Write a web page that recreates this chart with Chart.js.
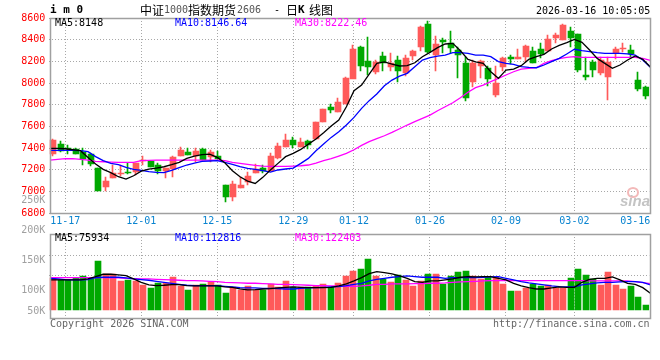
<!DOCTYPE html>
<html><head><meta charset="utf-8">
<script src="https://cdn.jsdelivr.net/npm/chart.js@4"></script>
<style>
html,body{margin:0;padding:0;background:#fff;width:660px;height:360px;overflow:hidden}
canvas{position:absolute;left:0;top:0;pointer-events:none}
.t{position:absolute;font:10px/12px 'DejaVu Sans Mono',monospace;white-space:pre;color:#000}
.c{font:12px/14px 'Noto Sans CJK SC',sans-serif}
</style></head><body>
<canvas id="main" width="660" height="360"></canvas>
<canvas id="vol" width="660" height="360"></canvas>
<div class="t" style="left:50px;top:4px;font-weight:bold;font-size:11px">i m 0</div>
<div class="t c" style="left:140px;top:3px">中证</div>
<div class="t" style="left:164px;top:4px;color:#555">1000</div>
<div class="t c" style="left:188px;top:3px">指数期货</div>
<div class="t" style="left:237px;top:4px;color:#555">2606</div>
<div class="t" style="left:268px;top:4px"> - </div>
<div class="t c" style="left:286px;top:3px">日</div>
<div class="t" style="left:298px;top:4px;font-weight:bold;font-size:11px">K</div>
<div class="t c" style="left:309px;top:3px">线图</div>
<div class="t" style="left:536px;top:5px">2026-03-16 10:05:05</div>
<div class="t" style="left:55px;top:17px">MA5:8148</div>
<div class="t" style="left:175px;top:17px;color:#00f">MA10:8146.64</div>
<div class="t" style="left:295px;top:17px;color:#f0f">MA30:8222.46</div>
<div class="t" style="left:55px;top:232px">MA5:75934</div>
<div class="t" style="left:175px;top:232px;color:#00f">MA10:112816</div>
<div class="t" style="left:295px;top:232px;color:#f0f">MA30:122403</div>
<div class="t" style="left:50px;top:318px;color:#666">Copyright 2026 SINA.COM</div>
<div class="t" style="left:493px;top:318px;color:#666">http://finance.sina.com.cn</div>
<div style="position:absolute;left:627px;top:187px;width:8px;height:7px;border:2px solid #f3b9b9;border-radius:50%"></div>
<div class="t" style="left:620px;top:193px;font:italic bold 15px/15px 'Liberation Sans',sans-serif;color:#c4c4c4">sina</div>
<script>
const categories=["11-13","11-14","11-17","11-18","11-19","11-20","11-21","11-24","11-25","11-26","11-27","11-28","12-01","12-02","12-03","12-04","12-05","12-08","12-09","12-10","12-11","12-12","12-15","12-16","12-17","12-18","12-19","12-22","12-23","12-24","12-25","12-26","12-29","12-30","12-31","01-05","01-06","01-07","01-08","01-09","01-12","01-13","01-14","01-15","01-16","01-19","01-20","01-21","01-22","01-23","01-26","01-27","01-28","01-29","01-30","02-02","02-03","02-04","02-05","02-06","02-09","02-10","02-11","02-12","02-13","02-24","02-25","02-26","02-27","03-02","03-03","03-04","03-05","03-06","03-09","03-10","03-11","03-12","03-13","03-16"];
const opens=[7344,7437,7403,7388,7363,7345,7215,7040,7123,7160,7175,7182,7280,7277,7240,7191,7203,7323,7363,7326,7391,7314,7323,7058,6947,7027,7086,7169,7215,7187,7307,7409,7473,7409,7464,7483,7640,7781,7735,7809,8037,8332,8203,8104,8246,8147,8212,8095,8252,8332,8544,8258,8394,8366,8301,8181,8012,8160,8135,7889,8147,8237,8224,8243,8295,8314,8295,8415,8394,8480,8452,8074,8197,8092,8055,8274,8314,8304,8027,7963];
const closes=[7474,7369,7388,7345,7295,7252,7006,7095,7166,7166,7166,7262,7286,7221,7188,7215,7317,7378,7335,7369,7289,7360,7298,6947,7067,7058,7141,7206,7184,7326,7415,7473,7427,7455,7427,7640,7757,7751,7824,8046,8311,8160,8151,8197,8181,8187,8114,8227,8295,8517,8283,8360,8381,8323,8258,7864,8181,8206,8040,7997,8231,8224,8237,8341,8187,8268,8403,8443,8532,8415,8120,8055,8120,8212,8197,8314,8323,8268,7944,7880];
const highs=[7483,7465,7428,7397,7397,7351,7215,7132,7243,7243,7258,7262,7326,7283,7258,7215,7326,7406,7397,7397,7397,7381,7375,7058,7095,7129,7181,7249,7243,7354,7443,7529,7504,7492,7473,7640,7757,7806,7858,8055,8351,8341,8421,8212,8286,8274,8249,8258,8304,8526,8572,8434,8418,8480,8335,8237,8212,8212,8157,8157,8243,8258,8314,8351,8332,8366,8443,8461,8544,8517,8452,8237,8212,8237,8237,8332,8369,8351,8101,7972];
const lows=[7326,7363,7345,7345,7243,7233,7006,7000,7123,7141,7160,7150,7243,7221,7160,7120,7135,7323,7335,7273,7289,7273,7298,6904,6914,7027,7058,7169,7166,7187,7298,7409,7400,7409,7390,7483,7640,7726,7735,7809,8043,8114,8074,8083,8114,8114,8012,8064,8212,8298,8274,8114,8280,8280,8046,7834,7966,8046,7972,7871,8114,8175,8224,8194,8187,8228,8295,8366,8394,8335,8104,8027,8055,8074,7843,8218,8283,8228,7926,7852];
const ma5=[7396,7396,7393,7384,7375,7313,7252,7203,7172,7135,7113,7144,7187,7206,7215,7227,7246,7267,7304,7326,7338,7344,7313,7264,7190,7135,7095,7073,7129,7196,7258,7320,7350,7387,7436,7483,7541,7603,7658,7781,7929,7981,8083,8181,8194,8175,8157,8160,8187,8243,8283,8326,8360,8366,8298,8218,8194,8181,8104,8043,8120,8129,8160,8218,8243,8264,8314,8348,8372,8403,8375,8304,8227,8181,8135,8166,8212,8249,8218,8148];
const ma10=[7378,7378,7378,7378,7375,7366,7320,7283,7258,7246,7221,7203,7194,7181,7175,7172,7194,7218,7243,7261,7277,7280,7283,7267,7249,7227,7212,7203,7191,7178,7197,7206,7215,7258,7304,7375,7436,7498,7550,7612,7683,7766,7837,7898,7975,8027,8064,8089,8151,8212,8234,8249,8258,8280,8280,8274,8258,8258,8243,8197,8181,8172,8151,8144,8141,8166,8197,8227,8268,8311,8298,8289,8280,8274,8274,8274,8268,8258,8212,8146];
const ma30=[7289,7295,7301,7301,7295,7289,7277,7273,7270,7267,7267,7267,7283,7286,7289,7289,7289,7289,7289,7289,7289,7289,7289,7283,7267,7258,7249,7240,7233,7230,7230,7230,7233,7236,7243,7261,7283,7301,7326,7350,7384,7424,7458,7486,7513,7544,7578,7612,7643,7674,7704,7744,7781,7818,7864,7914,7957,7981,8012,8043,8074,8104,8129,8135,8141,8181,8206,8224,8237,8243,8237,8237,8237,8237,8237,8237,8237,8237,8228,8209];
const volumes=[120600,117800,117300,120600,124500,120600,150000,127300,127300,116200,117800,116200,109500,104500,112800,112800,122800,107800,101200,109500,111200,114500,109500,96200,105600,100600,107800,100600,100600,111200,106200,116200,106200,106200,106200,107800,111200,106200,112800,124500,132800,136200,152800,124500,119500,114500,126200,117800,107800,116200,127800,127800,111200,124500,131200,132800,124500,119500,122800,122800,111200,99500,99500,104500,111200,107800,109500,104500,104500,121200,136200,126200,119500,109500,131200,109500,102800,107800,89500,76200];
const volMa5=[117800,117800,117800,117800,117800,119500,123400,127300,127300,126200,125000,119500,113900,109500,108400,109000,110000,110000,108400,107800,107800,107800,107800,106200,105600,102800,101200,101700,102800,103400,104500,105600,106200,105600,105000,105000,105000,105600,107800,111200,116200,121700,128400,131700,130000,127800,124500,120600,115000,113900,116200,116200,117800,119500,122300,123400,122800,123400,123400,120600,117800,112300,107800,105000,102800,102800,104500,106200,105600,105600,113900,118900,120600,120600,122800,117800,112300,110600,105000,95600];
const volMa10=[120600,119500,118400,117800,117800,118400,121700,122300,122300,122300,121200,119500,118400,117300,115600,113900,112300,110600,109000,108400,108400,108400,108400,107300,106200,105000,104500,104500,103900,103900,103400,102800,102800,103900,104500,105000,105600,106200,106700,108400,110600,112300,116200,118900,120600,122300,123400,124500,123400,122300,122300,122300,120600,121700,121700,121700,121700,122300,122800,123400,120600,117800,115000,112800,111200,109500,107800,106700,106200,106200,109500,111200,112800,113900,113900,114500,115000,115000,113900,109500];
const volMa30=[121700,121700,121700,121700,121700,121700,121700,121700,121200,121200,120600,120000,119500,119500,118900,118400,117800,117300,116700,116700,116200,115600,115000,113900,113400,112800,112300,112300,111700,111200,110600,110600,110000,109500,109000,108400,108400,107800,107800,107300,107300,107800,109000,110600,110600,111200,111200,111200,111700,111700,112300,112300,112800,113900,114500,115000,115600,116200,116700,116700,117300,116700,116700,116700,116700,116700,116700,116700,116700,116700,116700,116200,116200,116200,116200,116200,116200,115000,113400,111700];
const priceTicks=[6800,7000,7200,7400,7600,7800,8000,8200,8400,8600];
const gridStops=[2,12,22,32,40,50,60,69];
const dateTicks={2:"11-17",12:"12-01",22:"12-15",32:"12-29",40:"01-12",50:"01-26",60:"02-09",69:"03-02",77:"03-16"};
const volBase=66200;
const volLabels={250000:"250K",200000:"200K",150000:"150K",100000:"100K",66200:"50K"};
const volGrid=[159000,125700];

const RED='#ff5a5a',GREEN='#00a800',GRID='#a8a8a8',BORDER='#a0a0a0';
const MONO="'DejaVu Sans Mono'";
const colors=opens.map((o,i)=>closes[i]>=o?RED:GREEN);
const line=(label,arr,color)=>({type:'line',label,data:arr.map((y,i)=>({x:i,y})),xAxisID:'x2',borderColor:color,borderWidth:1.3,pointRadius:0,tension:0,clip:false,order:0,fill:false});
const border={id:'border',
 beforeDatasetsDraw(c){c.data.datasets.forEach((d,di)=>{if(d.type==='line')return;const wick=d.label==='Wick';
  c.getDatasetMeta(di).data.forEach(el=>{const cx=Math.ceil(el.x-1e-6);el.x=wick?cx-.5:cx;el.y=Math.round(el.y);el.base=Math.round(el.base);if(el.y===el.base)el.y-=1;});});},
 afterDraw(c){const x=c.scales.x2,y=c.chartArea,l=Math.round(x.getPixelForValue(0))+.5,r=Math.round(x.getPixelForValue(78.95))+.5;
 const g=c.ctx;g.save();g.strokeStyle=BORDER;g.lineWidth=1.5;g.strokeRect(l,Math.round(y.top)+.5,r-l,Math.round(y.bottom)-Math.round(y.top));g.restore();}};
const xBase={type:'category',display:false,offset:true,grid:{display:false}};
const x2=(showLabels)=>({type:'linear',position:'bottom',min:-0.1,max:78.85,offset:false,
 afterBuildTicks(a){a.ticks=Object.keys(dateTicks).map(v=>({value:+v}));},
 afterFit(a){a.height=showLabels?15:0;},
 grid:{offset:false,drawTicks:false,color:c=>(c.tick&&gridStops.includes(c.tick.value))?GRID:'transparent',lineWidth:1},
 border:{display:false,dash:[1,2]},
 ticks:{display:showLabels,autoSkip:false,maxRotation:0,padding:2,color:'#0a84d0',font:{family:MONO,size:10},callback:v=>dateTicks[v]||''}});
const base={type:'bar',options:{responsive:false,animation:false,devicePixelRatio:1,events:[],plugins:{legend:{display:false},tooltip:{enabled:false}}}};

new Chart(document.getElementById('main'),{...base,
 data:{labels:categories,datasets:[
  line('MA5',ma5,'#000'),line('MA10',ma10,'#00f'),line('MA30',ma30,'#f0f'),
  {label:'Wick',data:lows.map((l,i)=>[l,highs[i]]),backgroundColor:colors,barThickness:1,grouped:false,order:2},
  {label:'Body',data:opens.map((o,i)=>[o,closes[i]]),backgroundColor:colors,barThickness:6,grouped:false,order:1,minBarLength:1}
 ]},
 options:{...base.options,layout:{padding:{left:0,right:10.75,top:18,bottom:132}},
  scales:{x:xBase,x2:x2(true),
   y:{min:6800,max:8600,afterBuildTicks(a){a.ticks=priceTicks.map(v=>({value:v}));},afterFit(a){a.width=49.25;},
    grid:{drawTicks:false,color:GRID},border:{display:false,dash:[1,2]},
    ticks:{autoSkip:false,padding:4,color:'#f00',font:{family:MONO,size:10},callback:v=>String(v)}}}},
 plugins:[border]});

new Chart(document.getElementById('vol'),{...base,
 data:{labels:categories,datasets:[
  line('MA5',volMa5,'#000'),line('MA10',volMa10,'#00f'),line('MA30',volMa30,'#f0f'),
  {label:'Volume',data:volumes,base:volBase,backgroundColor:colors,barThickness:6,grouped:false,order:1}
 ]},
 options:{...base.options,layout:{padding:{left:0,right:10.75,top:234,bottom:42}},
  scales:{x:xBase,x2:x2(false),
   y:{min:54500,max:194300,
    afterBuildTicks(a){a.ticks=[...Object.keys(volLabels).map(Number),...volGrid].map(v=>({value:v}));},
    afterFit(a){a.width=49.25;},
    grid:{drawTicks:false,color:c=>(c.tick&&volGrid.includes(c.tick.value))?GRID:'transparent'},border:{display:false,dash:[1,2]},
    ticks:{autoSkip:false,padding:4,color:'#a0a0a0',font:{family:MONO,size:10},callback:v=>volLabels[v]||''}}}},
 plugins:[border]});
</script>
</body></html>
